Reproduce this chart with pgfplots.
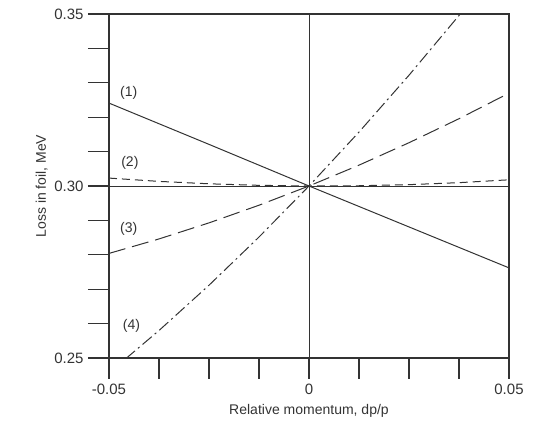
\documentclass[border=0pt]{standalone}
\usepackage{fontspec}
\setmainfont{Liberation Sans}
\usepackage{pgfplots}
\pgfplotsset{compat=1.18}
\usetikzlibrary{calc}
\definecolor{ink}{HTML}{333333}
\begin{document}
\begin{tikzpicture}
\begin{axis}[
  scale only axis,
  width=400pt, height=344pt,
  xmin=-0.05, xmax=0.05, ymin=0.25, ymax=0.35,
  scaled x ticks=false, scaled y ticks=false,
  axis line style={line width=1.6pt, ink},
  tick style={line width=1.1pt, ink},
  tick align=outside, tick pos=left,
  major tick length=21pt,
  xtick={-0.05,-0.0375,-0.025,-0.0125,0,0.0125,0.025,0.0375,0.05},
  xticklabels={-0.05,,,,0,,,,0.05},
  ytick={0.25,0.26,0.27,0.28,0.29,0.30,0.31,0.32,0.33,0.34,0.35},
  yticklabels={0.25,,,,,0.30,,,,,0.35},
  ticklabel style={font=\fontsize{15}{18}\selectfont, text=ink},
  xticklabel style={yshift=-1pt},
  yticklabel style={xshift=-1pt},
  xlabel={Relative momentum, dp/p},
  ylabel={Loss in foil, MeV},
  label style={font=\fontsize{14}{17}\selectfont, text=ink},
  xlabel style={at={(axis description cs:0.5,-0.154)}, anchor=center},
  ylabel style={at={(axis description cs:-0.168,0.5)}, anchor=center},
  every axis plot/.append style={ink, line width=1pt},
]
% reference lines
\addplot[line width=0.8pt] coordinates {(0,0.25) (0,0.35)};
\addplot[line width=0.8pt] coordinates {(-0.05,0.30) (0.05,0.30)};
% (1)
\addplot[solid] coordinates {(-0.05,0.3241) (-0.025,0.3121) (0,0.3) (0.025,0.2881) (0.05,0.2762)};
% (2)
\addplot[dash pattern=on 8pt off 5pt] coordinates {(-0.05,0.30230) (-0.0375,0.30134) (-0.025,0.30064) (-0.0125,0.30019) (0,0.3) (0.0125,0.30007) (0.025,0.30039) (0.0375,0.30097) (0.05,0.30180)};
% (3)
\addplot[dash pattern=on 17pt off 7pt] coordinates {(-0.05,0.2804) (-0.0375,0.28461) (-0.025,0.28928) (-0.0125,0.29441) (0,0.3) (0.0125,0.30606) (0.025,0.31258) (0.0375,0.31956) (0.05,0.3270)};
% (4)
\addplot[dash pattern=on 12pt off 4pt on 2pt off 4pt] coordinates {(-0.05,0.24567) (-0.0375,0.25799) (-0.025,0.27115) (-0.0125,0.28516) (0,0.3) (0.0125,0.31568) (0.025,0.3322) (0.0375,0.34957) (0.04,0.35314)};
\node[anchor=west, font=\fontsize{14}{17}\selectfont, text=ink] at (axis cs:-0.0481,0.327) {(1)};
\node[anchor=west, font=\fontsize{14}{17}\selectfont, text=ink] at (axis cs:-0.0478,0.3067) {(2)};
\node[anchor=west, font=\fontsize{14}{17}\selectfont, text=ink] at (axis cs:-0.0481,0.2875) {(3)};
\node[anchor=west, font=\fontsize{14}{17}\selectfont, text=ink] at (axis cs:-0.0474,0.2593) {(4)};
\end{axis}
\pgfresetboundingbox
\path[use as bounding box] ($(current axis.south west)+(-109pt,-64pt)$) rectangle ($(current axis.north east)+(31pt,14pt)$);
\end{tikzpicture}
\end{document}
